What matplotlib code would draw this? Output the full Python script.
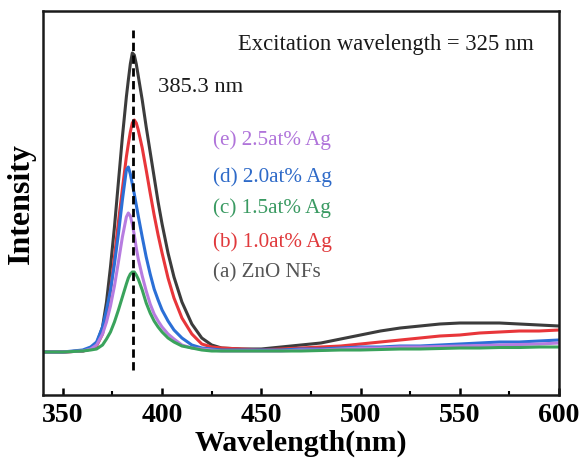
import matplotlib
matplotlib.use("Agg")
import matplotlib.pyplot as plt
from matplotlib.ticker import MultipleLocator

wavelength = [340, 350, 360, 364, 367, 370, 372, 374, 376, 378, 380, 382, 383, 384, 385, 386, 387, 388,
              390, 392, 394, 396, 398, 400, 403, 406, 410, 415, 420, 425, 430, 440, 450, 460, 470, 480,
              490, 500, 510, 520, 530, 540, 550, 560, 570, 580, 590, 600]

# (a) ZnO NFs
zno = [0, 0, 1, 3, 8, 25, 50, 85, 125, 170, 215, 255, 272, 288, 299, 297, 288, 276,
       252, 225, 200, 175, 150, 128, 99, 75, 50, 28, 14, 7, 4, 3, 3, 5, 7, 9,
       13, 17, 21, 24, 26, 28, 29, 29, 29, 28, 27, 26]
# (b) 1.0at% Ag
ag10 = [0, 0, 1, 3, 6, 18, 38, 62, 95, 130, 163, 195, 208, 220, 229, 232, 229, 222,
        204, 182, 159, 137, 117, 99, 74, 54, 34, 18, 8, 5, 4, 3, 2, 3, 4, 5,
        6, 8, 10, 12, 14, 16, 17, 19, 20, 21, 21, 22]
# (c) 1.5at% Ag
ag15 = [0, 0, 1, 2, 3, 7, 13, 20, 30, 42, 55, 68, 74, 78, 80, 80, 77, 73,
        62, 49, 39, 31, 25, 20, 14, 10, 6, 4, 2, 1, 1, 1, 1, 1, 1, 1.5,
        2, 2, 2.5, 3, 3, 3.5, 4, 4, 4.5, 4.5, 5, 5]
# (d) 2.0at% Ag
ag20 = [0, 0, 2, 5, 10, 25, 42, 62, 88, 118, 152, 182, 185, 178, 168, 158, 147, 136,
        115, 95, 78, 63, 52, 42, 31, 22, 14, 7, 4, 3, 2, 2, 2, 2, 3, 3,
        4, 5, 5, 6, 6, 7, 8, 9, 10, 10, 11, 12]
# (e) 2.5at% Ag
ag25 = [0, 0, 1, 3, 7, 18, 30, 46, 66, 90, 115, 135, 139, 136, 128, 117, 104, 93,
        76, 61, 48, 38, 31, 25, 18, 13, 7, 4, 3, 2, 1, 1, 1, 1, 2, 2,
        3, 4, 4, 5, 5, 5.5, 6, 6.5, 7, 7.5, 8, 9]

labels = ["(a) ZnO NFs", "(b) 1.0at% Ag", "(c) 1.5at% Ag", "(d) 2.0at% Ag", "(e) 2.5at% Ag"]
peak_label = "385.3 nm"
peak_pos = 385.3
excitation = "Excitation wavelength = 325 nm"
xticks = [350, 400, 450, 500, 550, 600]

line_colors = ["#3c3c3c", "#e8363a", "#3aa35c", "#2b6fd6", "#b77ce0"]
text_colors = ["#555555", "#e0393c", "#3a9a62", "#2e6ac8", "#b074da"]

plt.rcParams['font.family'] = ['Liberation Serif', 'DejaVu Serif']

fig = plt.figure(figsize=(5.82, 4.62), dpi=100)
ax = fig.add_axes([43/582, 67/462, 516/582, 384/462])

series = [zno, ag10, ag15, ag20, ag25]
# draw order: black, red, blue, purple, green on top
for idx in [0, 1, 3, 4, 2]:
    ax.plot(wavelength, series[idx], color=line_colors[idx], lw=2.2,
            solid_joinstyle='round', solid_capstyle='round')

ax.plot([peak_pos, peak_pos], [-18, 322], color='black', lw=2.0, linestyle=(0, (3, 1.6)))

ax.set_xlim(340, 600)
ax.set_ylim(-43, 341)
ax.set_xticks(xticks)
ax.xaxis.set_minor_locator(MultipleLocator(25))
ax.set_yticks([])
ax.tick_params(axis='x', which='major', direction='in', length=5, width=1.8, labelsize=20, pad=6)
ax.tick_params(axis='x', which='minor', direction='in', length=3, width=1.5)
for lab in ax.get_xticklabels():
    lab.set_fontweight('bold')
for sp in ax.spines.values():
    sp.set_linewidth(1.8)
    sp.set_color('#1a1a1a')

ax.set_xlabel("Wavelength(nm)", fontsize=21.5, fontweight='bold', labelpad=1)
ax.set_ylabel("Intensity", fontsize=23, fontweight='bold', labelpad=5)

ax.text((238-43)/516, (395-45)/384, excitation, transform=ax.transAxes, fontsize=16.3,
        ha='left', va='center', color='#1a1a1a')
ax.text((158-43)/516, (395-88)/384, peak_label, transform=ax.transAxes, fontsize=16.2,
        ha='left', va='center', color='#1a1a1a')

ys = [273, 242, 208, 177, 140]
for lab, col, y in zip(labels, text_colors, ys):
    ax.text((213-43)/516, (395-y)/384, lab, transform=ax.transAxes, fontsize=15.2,
            ha='left', va='center', color=col)

fig.savefig("out.png", dpi=100)
